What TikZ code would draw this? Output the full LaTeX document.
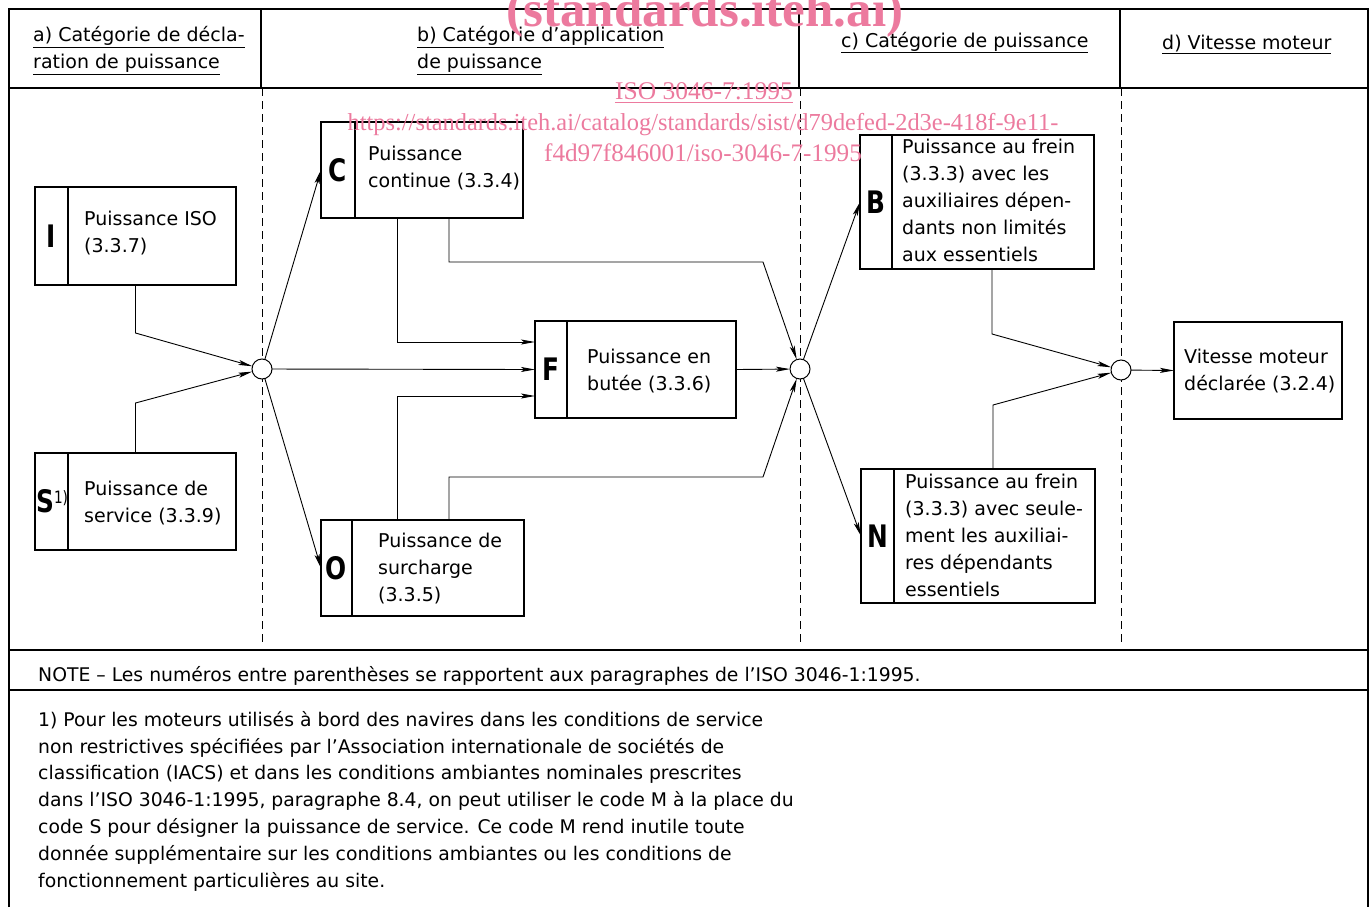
\documentclass[tikz,border=0pt]{standalone}
\usepackage{fontspec}
\setmainfont{DejaVu Sans}
\newfontfamily\letterfont[FakeStretch=0.8]{DejaVu Sans}
\newfontfamily\markfont{Liberation Serif}
\usetikzlibrary{arrows.meta}
\definecolor{wmpink}{RGB}{236,122,158}
\newcommand{\boxfont}{\fontsize{19}{27}\selectfont}
\newcommand{\notefont}{\fontsize{18.8}{26.8}\selectfont}
\begin{document}
\begin{tikzpicture}[x=1pt,y=-1pt,
    pbox/.style={draw,line width=1.5pt,inner sep=0pt,outer sep=0pt},
    txt/.style={anchor=north west,inner sep=0pt,align=left,font=\boxfont,
        yshift=-6pt,execute at begin node=\strut},
    ntxt/.style={txt,font=\notefont},
    letter/.style={inner sep=0pt,
        font=\letterfont\bfseries\fontsize{31}{31}\selectfont},
    junc/.style={draw,circle,fill=white,line width=1pt,minimum size=20pt,
        inner sep=0pt,outer sep=0pt},
    arr/.style={line width=0.9pt,-{Stealth[length=14pt,width=5pt,inset=3pt]}},
    frame/.style={line width=2.5pt},
    sep/.style={line width=1pt,dash pattern=on 8pt off 5pt},
    wmark/.style={text=wmpink,inner sep=0pt,anchor=base}]
  \useasboundingbox (0,0) rectangle (1372,907);

  % the frame
  \draw[frame] (9,907) -- (9,9) -- (1368,9) -- (1368,907);
  \draw[frame] (9,88) -- (1368,88);
  \draw[frame] (9,650) -- (1368,650);
  \draw[frame] (9,690) -- (1368,690);
  \foreach \x in {261,799,1120}
    \draw[frame] (\x,9) -- (\x,88);
  \foreach \x in {262,800,1121}
    \draw[sep] (\x,88) -- (\x,645);

  % the headings
  \node[txt] (ha) at (33,20) {\underline{a) Catégorie de décla-}\\
    \underline{ration de puissance}};
  \node[txt] (hb) at (417,20) {\underline{b) Catégorie d'application}\\
    \underline{de puissance}};
  \node[txt] (hc) at (841,22) {\underline{c) Catégorie de puissance}};
  \node[txt] (hd) at (1162,24) {\underline{d) Vitesse moteur}};

  % the boxes
  \node[pbox,minimum width=201pt,minimum height=98pt] (I) at (135.5,236) {};
  \draw[pbox] ([xshift=33pt]I.north west) -- ([xshift=33pt]I.south west);
  \node[letter] at ([xshift=16.5pt]I.west) {I};
  \node[txt] (tI) at (84,205) {Puissance ISO\\(3.3.7)};

  \node[pbox,minimum width=201pt,minimum height=97pt] (S) at (135.5,501.5) {};
  \draw[pbox] ([xshift=33pt]S.north west) -- ([xshift=33pt]S.south west);
  \node[letter,anchor=west] at ([xshift=1pt]S.west)
    {S\raisebox{9pt}{\mdseries\fontsize{17}{17}\selectfont 1)}};
  \node[txt] (tS) at (84,475) {Puissance de\\service (3.3.9)};

  \node[pbox,minimum width=202pt,minimum height=96pt] (C) at (422,170) {};
  \draw[pbox] ([xshift=34pt]C.north west) -- ([xshift=34pt]C.south west);
  \node[letter] at ([xshift=17pt]C.west) {C};
  \node[txt] (tC) at (368,140) {Puissance\\continue (3.3.4)};

  \node[pbox,minimum width=203pt,minimum height=96pt] (O) at (422.5,568) {};
  \draw[pbox] ([xshift=31pt]O.north west) -- ([xshift=31pt]O.south west);
  \node[letter] at ([xshift=15.5pt]O.west) {O};
  \node[txt] (tO) at (378,527) {Puissance de\\surcharge\\(3.3.5)};

  \node[pbox,minimum width=201pt,minimum height=97pt] (F) at (635.5,369.5) {};
  \draw[pbox] ([xshift=32pt]F.north west) -- ([xshift=32pt]F.south west);
  \node[letter] at ([xshift=16pt]F.west) {F};
  \node[txt] (tF) at (587,343) {Puissance en\\butée (3.3.6)};

  \node[pbox,minimum width=234pt,minimum height=134pt] (B) at (977,202) {};
  \draw[pbox] ([xshift=32pt]B.north west) -- ([xshift=32pt]B.south west);
  \node[letter] at ([xshift=16pt]B.west) {B};
  \node[txt] (tB) at (902,133) {Puissance au frein\\(3.3.3) avec les\\
    auxiliaires dépen-\\dants non limités\\aux essentiels};

  \node[pbox,minimum width=234pt,minimum height=134pt] (N) at (978,536) {};
  \draw[pbox] ([xshift=33pt]N.north west) -- ([xshift=33pt]N.south west);
  \node[letter] at ([xshift=16.5pt]N.west) {N};
  \node[txt] (tN) at (905,468) {Puissance au frein\\(3.3.3) avec seule-\\
    ment les auxiliai-\\res dépendants\\essentiels};

  \node[pbox,minimum width=168pt,minimum height=97pt] (V) at (1258,370.5) {};
  \node[txt] (tV) at (1184,343) {Vitesse moteur\\déclarée (3.2.4)};

  % the junctions
  \node[junc] (J1) at (262,369) {};
  \node[junc] (J2) at (800,369) {};
  \node[junc] (J3) at (1121,370) {};

  % the connectors
  \draw[arr] (I.south) -- ++(0,48) -- (J1);
  \draw[arr] (S.north) -- ++(0,-50) -- (J1);
  \draw[arr] (J1) -- (C.west);
  \draw[arr] (J1) -- (F.west);
  \draw[arr] (J1) -- (O.west);
  \draw[arr] ([xshift=-25pt]C.south) |- ([yshift=27.5pt]F.west);
  \draw[arr] ([xshift=-25.5pt]O.north) |- ([yshift=-26.5pt]F.west);
  \draw[arr] ([xshift=27pt]C.south) |- ++(314,44) -- (J2);
  \draw[arr] ([xshift=26.5pt]O.north) |- ++(314,-43) -- (J2);
  \draw[arr] (F.east) -- (J2);
  \draw[arr] (J2) -- (B.west);
  \draw[arr] (J2) -- (N.west);
  \draw[arr] ([xshift=15pt]B.south) -- ++(0,65) -- (J3);
  \draw[arr] ([xshift=15pt]N.north) -- ++(0,-64) -- (J3);
  \draw[arr] (J3) -- (V.west);

  % the notes
  \node[ntxt] (note) at (38,657) {NOTE -- Les numéros entre parenthèses se
    rapportent aux paragraphes de l'ISO 3046-1:1995.};
  \node[ntxt] (foot) at (38,705) {1) Pour les moteurs utilisés à bord des
    navires dans les conditions de service\\
    non restrictives spécifiées par l'Association internationale de
    sociétés de\\
    classification (IACS) et dans les conditions ambiantes nominales
    prescrites\\
    dans l'ISO 3046-1:1995, paragraphe 8.4, on peut utiliser le code M à
    la place du\\
    code S pour désigner la puissance de service. Ce code M rend inutile
    toute\\
    donnée supplémentaire sur les conditions ambiantes ou les conditions
    de\\
    fonctionnement particulières au site.};

  % the watermark
  \node[wmark,font=\markfont\bfseries\fontsize{51}{51}\selectfont] (wm1)
    at (705,27) {(standards.iteh.ai)};
  \node[wmark,font=\markfont\fontsize{25.5}{25.5}\selectfont] (wm2)
    at (704,99) {ISO 3046-7:1995};
  \draw[wmpink,line width=1pt] (wm2.base west) ++(0,3) -- ++(178,0);
  \node[wmark,font=\markfont\fontsize{24.4}{24.4}\selectfont] (wm3)
    at (703,130) {https://standards.iteh.ai/catalog/standards/sist/d79defed-2d3e-418f-9e11-};
  \node[wmark,font=\markfont\fontsize{25.2}{25.2}\selectfont] (wm4)
    at (703,161) {f4d97f846001/iso-3046-7-1995};
\end{tikzpicture}
\end{document}
